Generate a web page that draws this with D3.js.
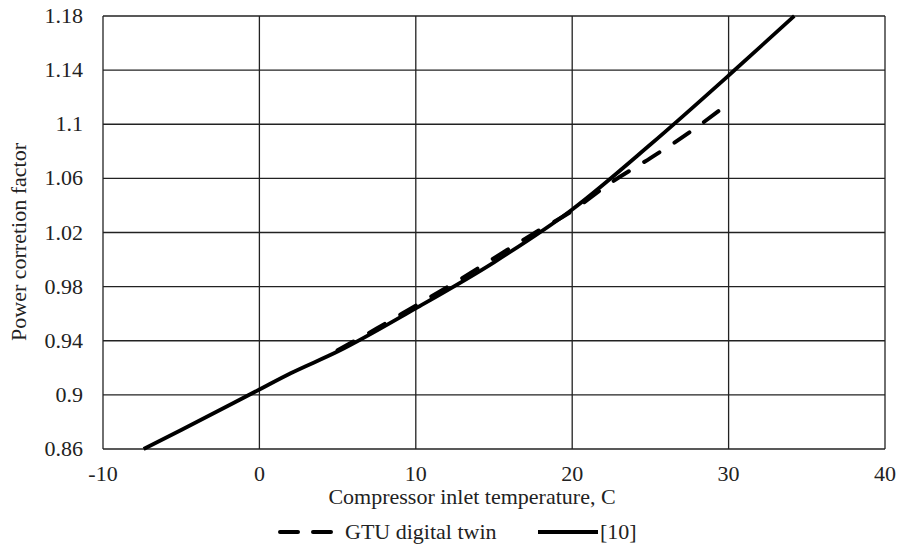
<!DOCTYPE html>
<html>
<head>
<meta charset="utf-8">
<script src="https://cdnjs.cloudflare.com/ajax/libs/d3/7.8.5/d3.min.js"></script>
<style>
  body { margin: 0; background: #fff; }
  svg text { font-family: "Liberation Serif", "Times New Roman", serif; fill: #222; }
</style>
</head>
<body>
<svg id="chart" width="898" height="545"></svg>
<script>
// values
var xTicks = [-10, 0, 10, 20, 30, 40];
var yTicks = [0.86, 0.9, 0.94, 0.98, 1.02, 1.06, 1.1, 1.14, 1.18];
var yTickLabels = ["0.86", "0.9", "0.94", "0.98", "1.02", "1.06", "1.1", "1.14", "1.18"];

// [10] reference curve
var refTemp = [-7.4, -5, 0, 2, 5, 10, 15, 20, 25, 30, 34.2];
var refFactor = [0.86, 0.874, 0.904, 0.916, 0.932, 0.964, 0.998, 1.037, 1.085, 1.136, 1.18];

// GTU digital twin
var twinTemp = [5, 7.5, 10, 12.5, 15, 17.5, 20, 22.5, 25, 27.5, 29.5];
var twinFactor = [0.933, 0.949, 0.966, 0.983, 1.001, 1.019, 1.036, 1.057, 1.075, 1.094, 1.111];

var svg = d3.select("#chart");
var plotLeft = 103, plotRight = 885, plotTop = 16, plotBottom = 449;
var fontSize = "22px";

var x = d3.scaleLinear().domain([-10, 40]).range([plotLeft, plotRight]);
var y = d3.scaleLinear().domain([0.86, 1.18]).range([plotBottom, plotTop]);

// grid
svg.append("g").selectAll("line")
  .data(yTicks).enter().append("line")
  .attr("x1", plotLeft).attr("x2", plotRight)
  .attr("y1", function(d){ return y(d); })
  .attr("y2", function(d){ return y(d); })
  .style("stroke", "#222").style("stroke-width", 1.3);

svg.append("g").selectAll("line")
  .data(xTicks).enter().append("line")
  .attr("y1", plotTop).attr("y2", plotBottom)
  .attr("x1", function(d){ return x(d); })
  .attr("x2", function(d){ return x(d); })
  .style("stroke", "#222").style("stroke-width", 1.3);

// tick labels
svg.append("g").selectAll("text")
  .data(yTicks).enter().append("text")
  .attr("x", plotLeft - 20)
  .attr("y", function(d){ return y(d) + 7; })
  .attr("text-anchor", "end")
  .style("font-size", fontSize)
  .text(function(d, i){ return yTickLabels[i]; });

svg.append("g").selectAll("text")
  .data(xTicks).enter().append("text")
  .attr("x", function(d){ return x(d); })
  .attr("y", 481)
  .attr("text-anchor", "middle")
  .style("font-size", fontSize)
  .text(function(d){ return d; });

// axis titles
svg.append("text")
  .attr("x", 472).attr("y", 504)
  .attr("text-anchor", "middle")
  .style("font-size", fontSize)
  .text("Compressor inlet temperature, C");

svg.append("text")
  .attr("transform", "translate(26,242) rotate(-90)")
  .attr("text-anchor", "middle")
  .style("font-size", fontSize)
  .text("Power corretion factor");

// lines
var line = d3.line()
  .x(function(d){ return x(d[0]); })
  .y(function(d){ return y(d[1]); })
  .curve(d3.curveMonotoneX);

var refPts = refTemp.map(function(t, i){ return [t, refFactor[i]]; });
var twinPts = twinTemp.map(function(t, i){ return [t, twinFactor[i]]; });

svg.append("path")
  .attr("d", line(twinPts))
  .style("fill", "none").style("stroke", "#000")
  .style("stroke-width", 4)
  .style("stroke-linecap", "round")
  .style("stroke-dasharray", "18,18");

svg.append("path")
  .attr("d", line(refPts))
  .style("fill", "none").style("stroke", "#000")
  .style("stroke-width", 3.8);

// legend
var legend = svg.append("g");
legend.append("line")
  .attr("x1", 280).attr("x2", 332).attr("y1", 532).attr("y2", 532)
  .style("stroke", "#000").style("stroke-width", 4)
  .style("stroke-linecap", "round")
  .style("stroke-dasharray", "18,15");
legend.append("text")
  .attr("x", 345).attr("y", 539)
  .style("font-size", fontSize)
  .text("GTU digital twin");
legend.append("line")
  .attr("x1", 538).attr("x2", 598).attr("y1", 532).attr("y2", 532)
  .style("stroke", "#000").style("stroke-width", 4);
legend.append("text")
  .attr("x", 600).attr("y", 539)
  .style("font-size", fontSize)
  .text("[10]");
</script>
</body>
</html>
